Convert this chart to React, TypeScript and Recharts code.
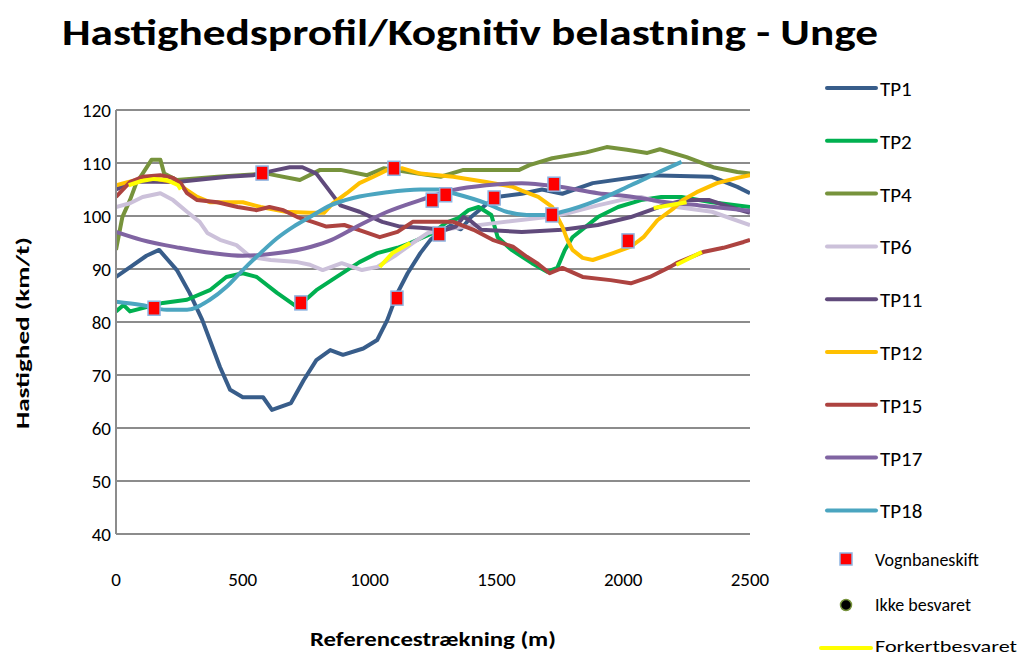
import React from 'react';
import {
  ComposedChart, Line, Scatter, XAxis, YAxis, CartesianGrid
} from 'recharts';

// distance (m), speed (km/t)
const tp1 = [[0, 88.5], [60, 90.5], [120, 92.5], [170, 93.6], [240, 89.8], [290, 85.5], [340, 80.4], [370, 76.6], [410, 71.5], [450, 67.2], [500, 65.8], [580, 65.8], [615, 63.4], [690, 64.7], [740, 69], [790, 72.8], [845, 74.7], [895, 73.8], [975, 75], [1030, 76.6], [1070, 80.4], [1110, 85.5], [1150, 89.2], [1200, 93], [1240, 95.5], [1280, 97], [1320, 98.2], [1360, 97.5], [1400, 99.8], [1450, 101.8], [1500, 103.6], [1600, 104.2], [1680, 105], [1760, 104.2], [1880, 106.2], [2100, 107.7], [2350, 107.4], [2450, 105.5], [2500, 104.3]];
const tp2 = [[0, 82], [30, 83.2], [55, 82], [185, 83.6], [280, 84.2], [370, 86], [435, 88.5], [500, 89.2], [555, 88.5], [635, 85.5], [715, 82.8], [790, 86], [870, 88.5], [960, 91.3], [1030, 93], [1110, 94], [1160, 94.9], [1250, 96.8], [1300, 98.7], [1350, 99.6], [1390, 101.1], [1430, 101.7], [1480, 100.2], [1505, 96], [1560, 93.6], [1640, 91.1], [1700, 89.5], [1740, 90.2], [1770, 93.6], [1800, 96], [1900, 99.8], [1980, 101.7], [2070, 103], [2150, 103.6], [2230, 103.6], [2350, 102.6], [2500, 101.7]];
const tp4 = [[0, 93.6], [25, 99.8], [55, 103], [80, 106.2], [105, 108], [140, 110.6], [175, 110.6], [190, 108], [240, 106.8], [400, 107.4], [595, 108], [725, 106.8], [805, 108.7], [885, 108.7], [990, 107.7], [1055, 109], [1190, 108], [1280, 107.4], [1370, 108.7], [1590, 108.7], [1630, 109.6], [1720, 110.9], [1855, 112], [1935, 113], [2015, 112.5], [2095, 111.9], [2145, 112.6], [2250, 111.1], [2355, 109.2], [2450, 108.3], [2500, 108]];
const tp6 = [[0, 101.7], [55, 102.4], [105, 103.6], [175, 104.3], [225, 103], [280, 100.8], [330, 98.9], [360, 96.8], [410, 95.5], [475, 94.5], [530, 92.3], [610, 91.7], [715, 91.3], [765, 90.8], [815, 89.8], [890, 91.1], [970, 89.8], [1030, 90.4], [1100, 92.5], [1170, 94.9], [1230, 96.8], [1300, 97.5], [1500, 98.7], [1700, 99.8], [1780, 100.5], [1900, 102], [1990, 103], [2070, 103.6], [2210, 101.7], [2350, 100.8], [2500, 98.3]];
const tp11 = [[0, 105], [70, 106.5], [240, 106.4], [440, 107.4], [540, 107.7], [635, 108.7], [685, 109.2], [735, 109.2], [790, 108], [830, 105.5], [885, 102], [960, 100.8], [1050, 98.9], [1120, 98], [1200, 97.8], [1300, 97.4], [1340, 98], [1370, 99.8], [1400, 99], [1440, 97.4], [1600, 97], [1760, 97.4], [1900, 98.3], [2030, 99.8], [2160, 102], [2240, 103], [2340, 103], [2420, 101.7], [2500, 100.6]];
const tp12 = [[0, 105.8], [45, 106.4], [100, 107], [160, 107], [240, 106.2], [280, 104.9], [320, 103.6], [370, 102.6], [500, 102.6], [570, 101.7], [670, 100.8], [765, 100.6], [820, 100.6], [855, 102.4], [910, 104.3], [960, 106.2], [1015, 107.4], [1070, 108.7], [1130, 109], [1200, 108], [1330, 107.4], [1460, 106.4], [1565, 105.5], [1600, 104.8], [1665, 103.6], [1720, 101.7], [1760, 98], [1780, 95.5], [1800, 93.6], [1840, 92.1], [1880, 91.7], [1960, 93], [2030, 94.2], [2080, 96], [2135, 99.2], [2200, 101.5], [2235, 103], [2290, 104.5], [2370, 106.2], [2450, 107.2], [2500, 107.7]];
const tp15 = [[0, 103.6], [25, 104.9], [55, 106.4], [105, 107.4], [175, 107.7], [225, 107.2], [255, 106.2], [280, 104.3], [320, 103], [400, 102.6], [480, 101.7], [555, 101.1], [605, 101.7], [660, 101.1], [715, 99.8], [775, 98.9], [830, 98], [900, 98.3], [980, 97], [1040, 96], [1110, 97], [1170, 98.9], [1240, 98.9], [1330, 98.9], [1410, 97.4], [1485, 95.5], [1565, 94.2], [1620, 92.3], [1660, 91.1], [1710, 89.2], [1760, 90.2], [1840, 88.5], [1950, 87.9], [2030, 87.3], [2105, 88.5], [2185, 90.4], [2210, 91.1], [2315, 93.2], [2395, 94], [2475, 95.1], [2500, 95.5]];
const tp17 = [[0, 97], [100, 95.5], [250, 94], [380, 93], [500, 92.5], [640, 93], [770, 94.2], [850, 95.5], [950, 98], [1070, 100.8], [1200, 103], [1330, 104.9], [1460, 105.8], [1600, 106.2], [1750, 105.5], [1900, 104.3], [2040, 103.6], [2170, 102.6], [2300, 102], [2500, 101]];
const tp18 = [[0, 83.8], [100, 83.2], [200, 82.3], [280, 82.3], [370, 84.2], [435, 86.6], [500, 89.8], [570, 93], [635, 95.8], [700, 98], [765, 99.8], [845, 102], [935, 103.4], [1070, 104.5], [1200, 105], [1270, 105], [1330, 104.3], [1460, 102.4], [1540, 100.8], [1620, 100.2], [1700, 100.2], [1760, 100.8], [1900, 103], [2030, 105.8], [2160, 108.7], [2230, 110.2]];

// wrongly answered stretches (yellow)
const forkert1 = [[50, 105.8], [100, 106.6], [150, 107], [200, 106.8], [245, 105.8], [255, 105]];
const forkert2 = [[1040, 90.4], [1090, 93], [1160, 94.9]];
const forkert3 = [[2120, 101.5], [2250, 102.6]];
const forkert4 = [[2210, 90.8], [2310, 93.2]];

// lane changes
const vognbaneskift = [[150, 82.6], [576, 108.1], [729, 83.6], [1096, 109], [1108, 84.5], [1247, 103], [1300, 104], [1274, 96.6], [1491, 103.4], [1727, 106], [1719, 100.2], [2019, 95.3]];

const xTicks = [0, 500, 1000, 1500, 2000, 2500];
const yTicks = [40, 50, 60, 70, 80, 90, 100, 110, 120];

const toPts = (arr: number[][]) => arr.map(([x, v]) => ({ x, v }));

const series = [
  { name: 'TP1', data: tp1, color: '#385D8A' },
  { name: 'TP2', data: tp2, color: '#00B050' },
  { name: 'TP4', data: tp4, color: '#77933C' },
  { name: 'TP6', data: tp6, color: '#CCC1DA' },
  { name: 'TP11', data: tp11, color: '#604A7B' },
  { name: 'TP12', data: tp12, color: '#FFC000' },
  { name: 'TP15', data: tp15, color: '#AD4340' },
  { name: 'TP17', data: tp17, color: '#8064A2' },
  { name: 'TP18', data: tp18, color: '#4BA5C0' },
];

const FONT = "Carlito, 'Liberation Sans Narrow', 'Liberation Sans', Arial, sans-serif";

const Square = (props: any) => {
  const { cx, cy } = props;
  if (cx == null || cy == null) return null;
  return <rect x={cx - 6} y={cy - 7} width={12} height={14} fill="#FF0000" stroke="#8DB4E2" strokeWidth={1.5} />;
};

const Overlay = () => {
  const legendTop = 88;
  const step = 52.8;
  return (
    <svg width={1026} height={657} style={{ position: 'absolute', left: 0, top: 0, pointerEvents: 'none' }}>
      <text x={62} y={45} fontFamily={FONT} fontWeight="bold" fontSize={36} textLength={816} lengthAdjust="spacingAndGlyphs" fill="#000">
        Hastighedsprofil/Kognitiv belastning - Unge
      </text>
      <text transform="translate(29,333) rotate(-90)" textAnchor="middle" fontFamily={FONT} fontWeight="bold" fontSize={18} textLength={192} lengthAdjust="spacingAndGlyphs" fill="#000">
        Hastighed (km/t)
      </text>
      <text x={433} y={646} textAnchor="middle" fontFamily={FONT} fontWeight="bold" fontSize={21} textLength={246} lengthAdjust="spacingAndGlyphs" fill="#000">
        Referencestrækning (m)
      </text>
      {series.map((s, i) => {
        const y = legendTop + i * step;
        return (
          <g key={s.name}>
            <line x1={827} x2={876} y1={y} y2={y} stroke={s.color} strokeWidth={4} strokeLinecap="round" />
            <text x={880} y={y + 8} fontFamily={FONT} fontSize={21} fill="#000">{s.name}</text>
          </g>
        );
      })}
      <rect x={840} y={553} width={12} height={12} fill="#FF0000" stroke="#8DB4E2" strokeWidth={1.5} />
      <text x={875} y={566} fontFamily={FONT} fontSize={18} fill="#000">Vognbaneskift</text>
      <circle cx={846} cy={605} r={5.5} fill="#000" stroke="#77933C" strokeWidth={1.5} />
      <text x={875} y={611} fontFamily={FONT} fontSize={18} fill="#000">Ikke besvaret</text>
      <line x1={821} x2={871} y1={648} y2={648} stroke="#FFFF00" strokeWidth={4} strokeLinecap="round" />
      <text x={875} y={652} fontFamily={FONT} fontSize={17} textLength={142} lengthAdjust="spacingAndGlyphs" fill="#000">Forkertbesvaret</text>
    </svg>
  );
};

export default function App() {
  return (
    <div style={{ position: 'absolute', left: 0, top: 0, width: 1026, height: 657, background: '#fff' }}>
      <ComposedChart width={1026} height={657} margin={{ top: 110, right: 276, bottom: 63, left: 56 }}>
        <CartesianGrid vertical={false} stroke="#8C8C8C" strokeWidth={2} />
        <XAxis
          type="number"
          dataKey="x"
          domain={[0, 2500]}
          ticks={xTicks}
          height={60}
          axisLine={{ stroke: '#8C8C8C', strokeWidth: 2 }}
          tickLine={false}
          tickSize={0}
          tickMargin={39}
          tick={{ fill: '#000', fontSize: 19, fontFamily: FONT }}
          allowDataOverflow
        />
        <YAxis
          type="number"
          domain={[40, 120]}
          ticks={yTicks}
          width={60}
          axisLine={{ stroke: '#8C8C8C', strokeWidth: 2 }}
          tickLine={false}
          tickSize={0}
          tickMargin={5}
          tick={{ fill: '#000', fontSize: 19, fontFamily: FONT }}
          allowDataOverflow
        />
        {series.map(s => (
          <Line
            key={s.name}
            data={toPts(s.data)}
            dataKey="v"
            name={s.name}
            type={s.name === 'TP17' || s.name === 'TP18' ? 'monotone' : 'linear'}
            stroke={s.color}
            strokeWidth={4}
            strokeLinejoin="round"
            dot={false}
            activeDot={false}
            isAnimationActive={false}
          />
        ))}
        {[forkert1, forkert2, forkert3, forkert4].map((seg, i) => (
          <Line
            key={'f' + i}
            data={toPts(seg)}
            dataKey="v"
            name="Forkertbesvaret"
            type="linear"
            stroke="#FFFF00"
            strokeWidth={4}
            strokeLinejoin="round"
            dot={false}
            activeDot={false}
            isAnimationActive={false}
          />
        ))}
        <Scatter
          data={toPts(vognbaneskift)}
          dataKey="v"
          name="Vognbaneskift"
          shape={<Square />}
          isAnimationActive={false}
        />
      </ComposedChart>
      <Overlay />
    </div>
  );
}
